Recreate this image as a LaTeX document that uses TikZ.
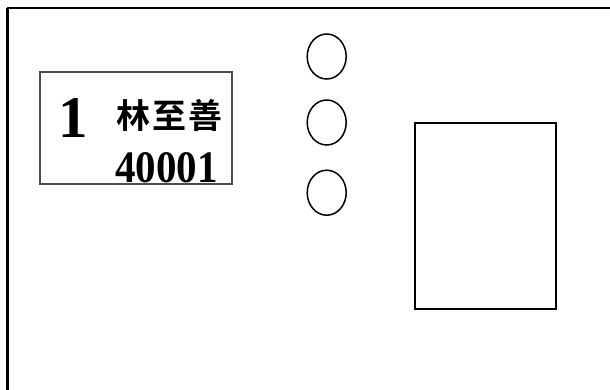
\documentclass[tikz,border=0pt]{standalone}
\usepackage{fontspec}
\setmainfont{Liberation Serif}
\newfontfamily\cjk{Noto Sans CJK TC}[BoldFont={* Bold}]
\usetikzlibrary{shapes.geometric}
\begin{document}
\begin{tikzpicture}[x=1pt,y=-1pt,
  frameline/.style={line width=2.2pt,black},
  cardbox/.style={draw=black!70,line width=2pt},
  slot/.style={draw,ellipse,line width=1.5pt,minimum width=39pt,minimum height=45pt,inner sep=0pt},
  panel/.style={draw,line width=2pt},
  bignum/.style={font=\fontsize{59}{59}\selectfont\bfseries,inner sep=0pt},
  idnum/.style={font=\fontsize{41}{41}\selectfont\bfseries,inner sep=0pt},
  namefont/.style={font=\fontsize{34}{34}\selectfont\cjk\bfseries,inner sep=0pt}]
\useasboundingbox (0,0) rectangle (610,389);
\fill[white] (0,0) rectangle (610,389);
% outer frame (continues beyond the picture)
\coordinate (ftr) at (612,8);
\coordinate (ftl) at (7,8);
\coordinate (fbl) at (7,391);
\draw[frameline,line width=2pt] (ftr) -- (ftl);
\draw[frameline,line width=3pt] (ftl) -- (fbl);
% card box
\draw[cardbox] (40,72) rectangle (232,184);
\node[bignum,anchor=base] (one) at (73,137) {1};
\node[namefont,anchor=base] (name) at (169.5,128) {林\hspace{2.5pt}至\hspace{2.5pt}善};
\node[idnum,anchor=base west] (id) at (115,182) {\scalebox{1}[1.1]{40001}};
% slots
\node[slot] (s1) at (326.7,56.5) {};
\node[slot] (s2) at (326.7,122.5) {};
\node[slot] (s3) at (326.7,192.7) {};
% panel
\node[panel,minimum width=141.5pt,minimum height=186.5pt,inner sep=0pt] (p) at (485.3,215.8) {};
\end{tikzpicture}
\end{document}
